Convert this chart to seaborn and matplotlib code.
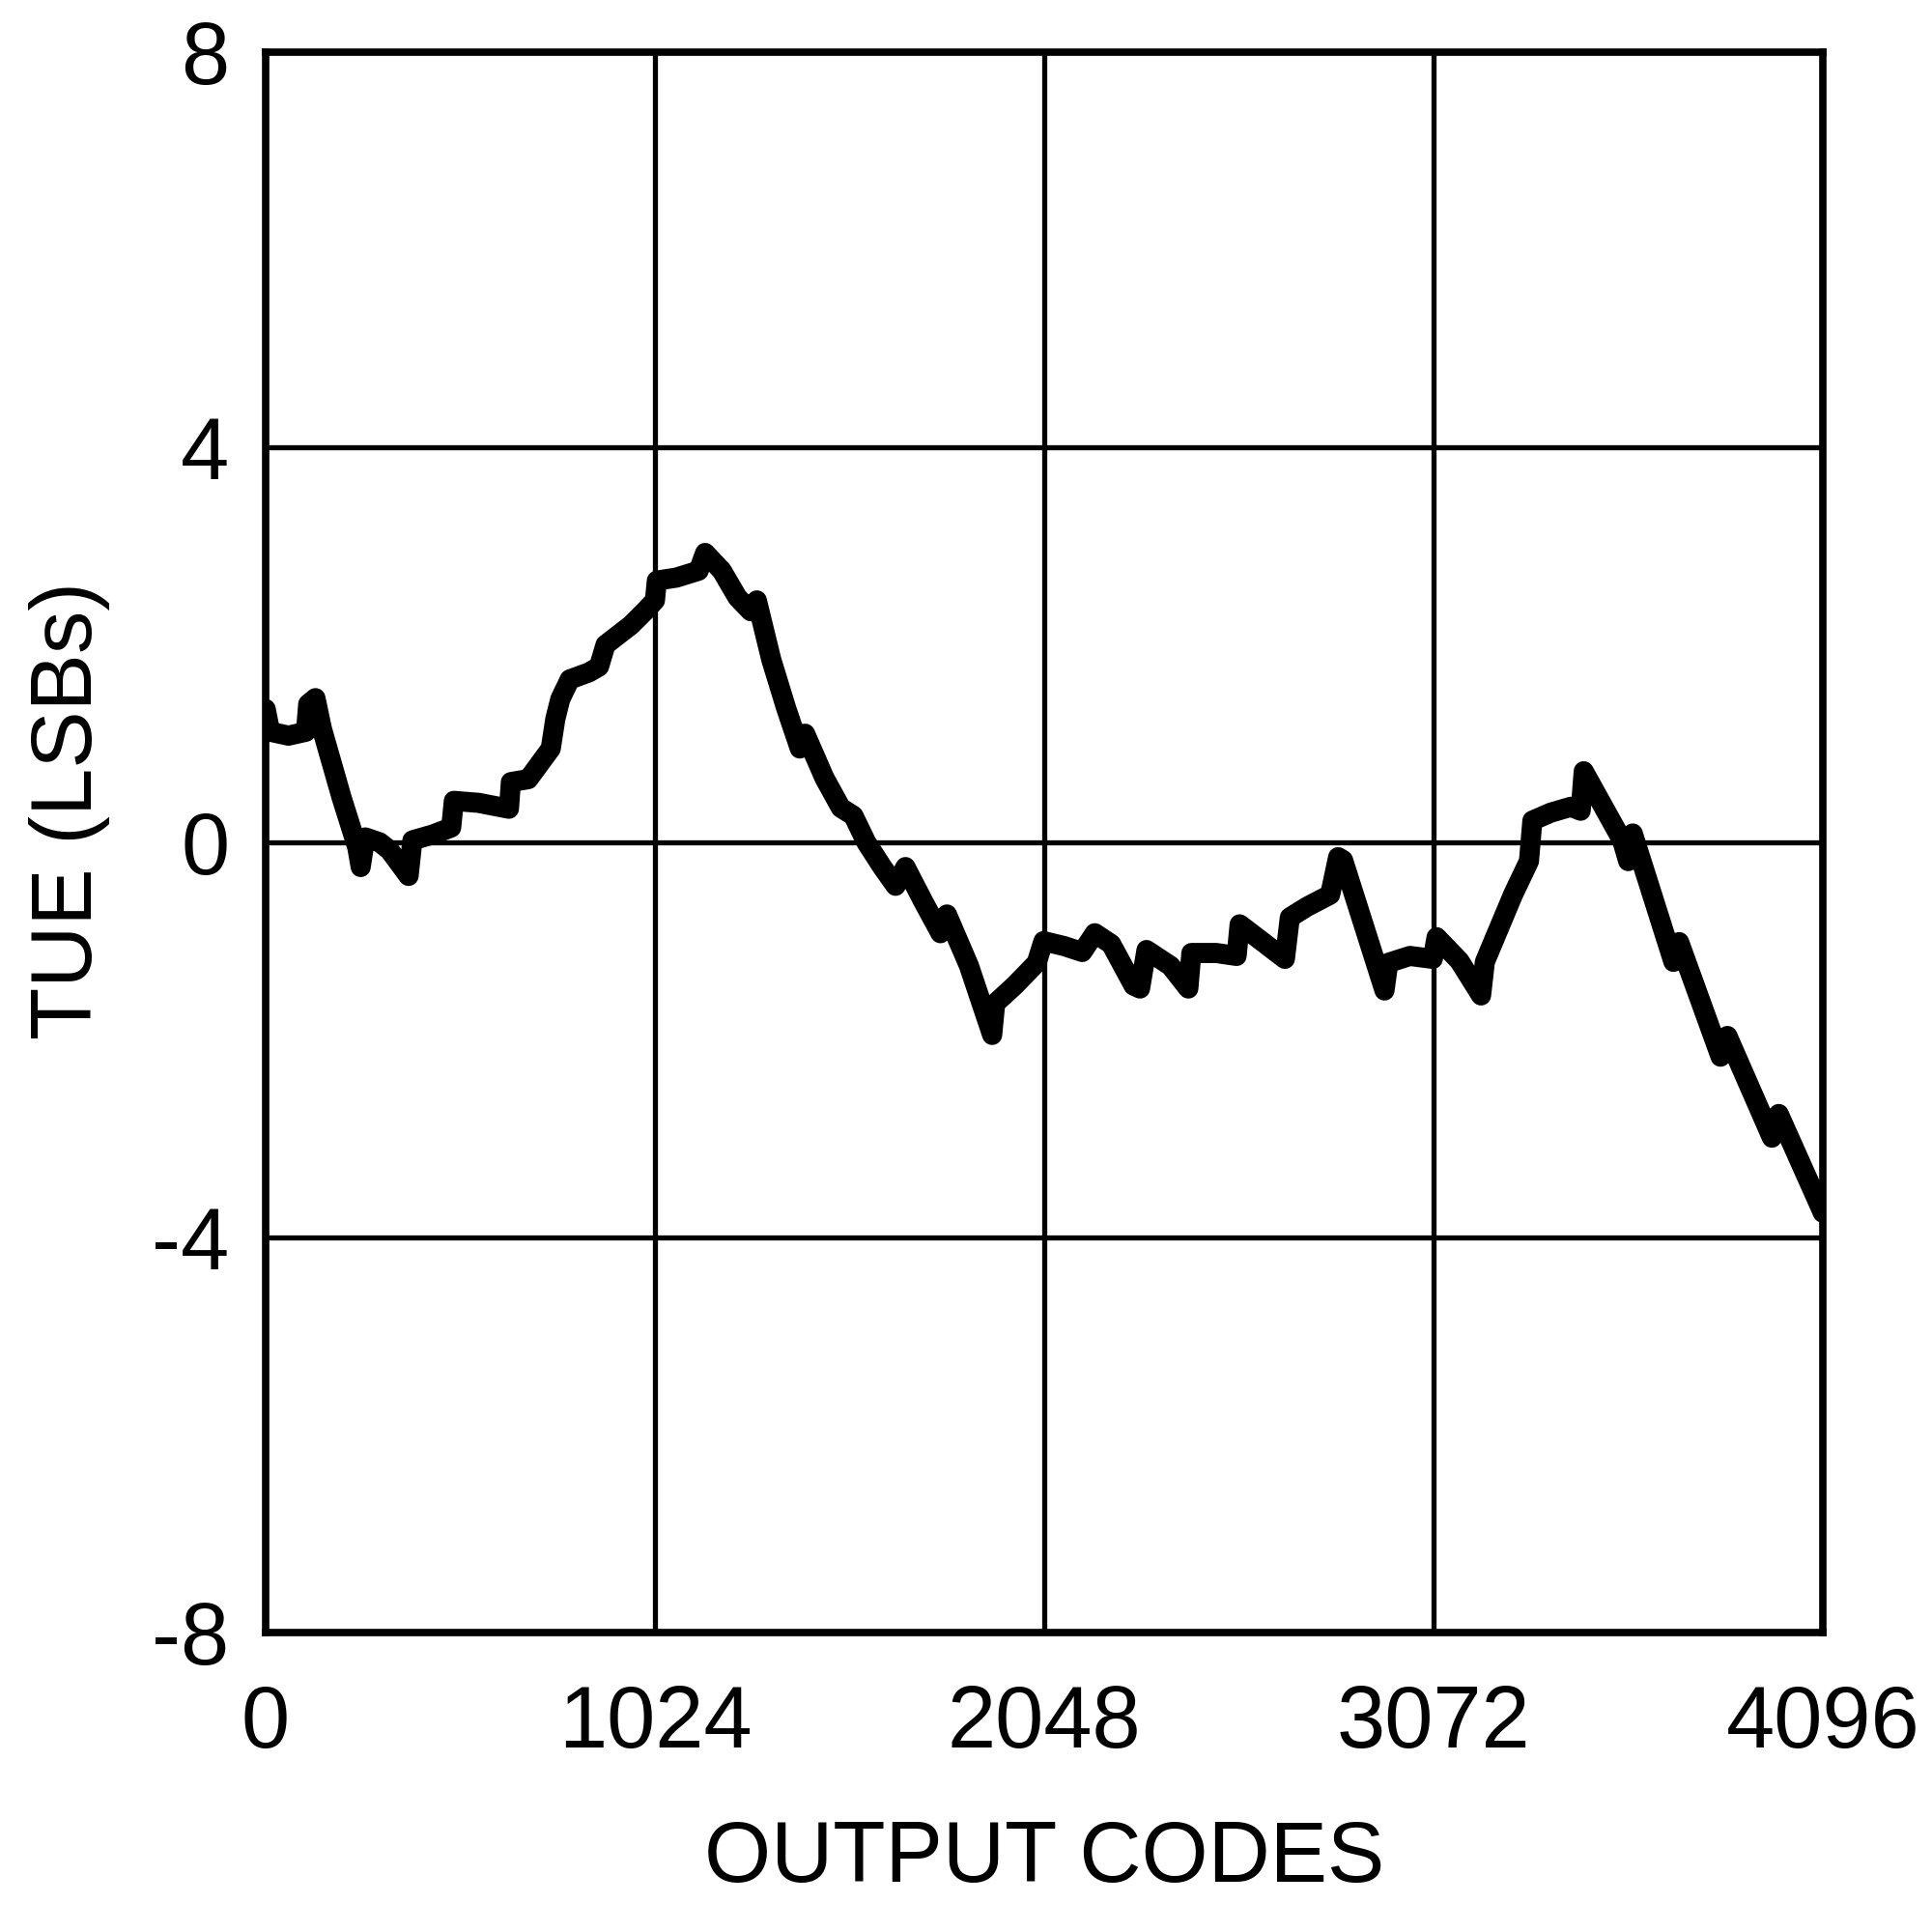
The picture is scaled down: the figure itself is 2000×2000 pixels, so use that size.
import matplotlib
matplotlib.use('Agg')
import matplotlib.pyplot as plt
import seaborn as sns
import pandas as pd

# TUE curve (code, LSBs)
codes = [0, 12, 60, 106, 112, 131, 148, 200, 241, 250, 262, 300, 326, 376, 386,
         440, 488, 495, 560, 640, 645, 691, 750, 762, 775, 800, 850, 877, 894,
         961, 1000, 1024, 1029, 1080, 1139, 1156, 1200, 1241, 1276, 1292, 1330,
         1369, 1405, 1419, 1470, 1513, 1546, 1580, 1622, 1657, 1683, 1730, 1775,
         1792, 1850, 1911, 1919, 1970, 2028, 2046, 2100, 2148, 2181, 2224, 2283,
         2300, 2317, 2380, 2427, 2435, 2500, 2554, 2562, 2620, 2681, 2694, 2740,
         2800, 2821, 2834, 2943, 2953, 3010, 3070, 3080, 3140, 3197, 3207, 3281,
         3323, 3332, 3380, 3433, 3459, 3467, 3568, 3584, 3596, 3703, 3718, 3827,
         3845, 3962, 3980, 4096]
tue = [1.35, 1.12, 1.08, 1.12, 1.40, 1.46, 1.15, 0.45, -0.05, -0.25, 0.05, 0.0,
       -0.08, -0.34, 0.02, 0.08, 0.15, 0.42, 0.40, 0.34, 0.61, 0.64, 0.95, 1.25,
       1.45, 1.65, 1.72, 1.78, 2.0, 2.2, 2.35, 2.45, 2.65, 2.68, 2.75, 2.93, 2.75,
       2.48, 2.34, 2.45, 1.85, 1.36, 0.95, 1.10, 0.65, 0.35, 0.27, 0.0, -0.25,
       -0.44, -0.25, -0.6, -0.92, -0.73, -1.25, -1.95, -1.63, -1.45, -1.22, -1.0,
       -1.05, -1.11, -0.92, -1.03, -1.45, -1.48, -1.09, -1.25, -1.48, -1.12, -1.12,
       -1.15, -0.83, -1.0, -1.18, -0.76, -0.65, -0.53, -0.15, -0.18, -1.5, -1.22,
       -1.15, -1.18, -0.96, -1.2, -1.55, -1.21, -0.53, -0.19, 0.22, 0.30, 0.36,
       0.32, 0.72, 0.02, -0.19, 0.09, -1.21, -1.01, -2.17, -1.96, -2.99, -2.75,
       -3.75]

xticks = [0, 1024, 2048, 3072, 4096]
yticks = [-8, -4, 0, 4, 8]

df = pd.DataFrame({'code': codes, 'tue': tue})

sns.set_style('white')
plt.rcParams['font.family'] = ['Liberation Sans', 'DejaVu Sans']
plt.rcParams['axes.unicode_minus'] = False

fig = plt.figure(figsize=(20, 20), dpi=100)
ax = fig.add_axes([0.1375, 0.155, 0.806, 0.818])

sns.lineplot(data=df, x='code', y='tue', color='black', linewidth=15,
             estimator=None, sort=False, ax=ax)

ax.set_xlim(0, 4096)
ax.set_ylim(-8, 8)
ax.set_xticks(xticks)
ax.set_yticks(yticks)
ax.grid(True, color='black', linewidth=3.8)
ax.set_axisbelow(True)
for s in ax.spines.values():
    s.set_color('black')
    s.set_linewidth(5.5)

ax.tick_params(axis='both', length=0, labelsize=65, colors='black')
ax.tick_params(axis='x', pad=38)
ax.tick_params(axis='y', pad=27)

ax.set_xlabel('OUTPUT CODES', fontsize=64, labelpad=40, color='black')
ax.set_ylabel('TUE (LSBs)', fontsize=64, labelpad=40, color='black')
ax.yaxis.set_label_coords(-0.10, 0.52)

fig.savefig('out.png', dpi=100, facecolor='white')
